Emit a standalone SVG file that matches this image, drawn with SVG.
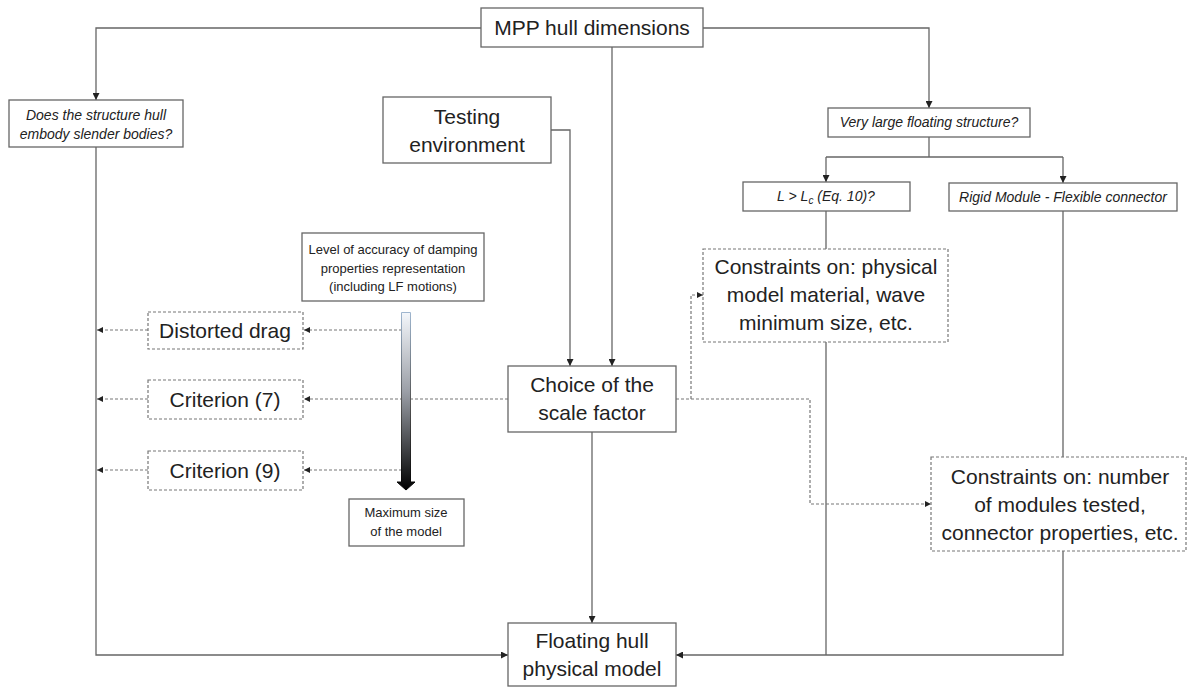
<svg xmlns="http://www.w3.org/2000/svg" width="1188" height="687" viewBox="0 0 1188 687">
  <defs>
    <marker id="arr" viewBox="0 0 10 10" refX="10" refY="5" markerWidth="7" markerHeight="7" markerUnits="userSpaceOnUse" orient="auto">
      <path d="M0,0 L10,5 L0,10 Z" fill="#222"/>
    </marker>
    <marker id="arrs" viewBox="0 0 10 10" refX="10" refY="5" markerWidth="6" markerHeight="6" markerUnits="userSpaceOnUse" orient="auto">
      <path d="M0,0 L10,5 L0,10 Z" fill="#222"/>
    </marker>
    <linearGradient id="fade" x1="0" y1="0" x2="0" y2="1">
      <stop offset="0" stop-color="#f4f7fb"/>
      <stop offset="0.45" stop-color="#9a9ea6"/>
      <stop offset="1" stop-color="#000"/>
    </linearGradient>
    <linearGradient id="fadeEdge" x1="0" y1="0" x2="0" y2="1">
      <stop offset="0" stop-color="#9fb6cf"/>
      <stop offset="0.5" stop-color="#555"/>
      <stop offset="1" stop-color="#000"/>
    </linearGradient>
    <style>
      .box { fill: #fff; stroke: #666; stroke-width: 1.3; }
      .dbox { fill: #fff; stroke: #777; stroke-width: 1.2; stroke-dasharray: 3 2; }
      .t { font-family: "Liberation Sans", Arial, sans-serif; fill: #222; text-anchor: middle; }
      .big { font-size: 21px; }
      .it { font-size: 14px; font-style: italic; }
      .sm { font-size: 13px; }
      .line { fill: none; stroke: #666; stroke-width: 1.3; }
      .dash { fill: none; stroke: #777; stroke-width: 1.2; stroke-dasharray: 3 2; }
    </style>
  </defs>
  <rect width="1188" height="687" fill="#fff"/>

  <g id="connectors">
    <!-- solid flow lines -->
    <path class="line" d="M481,28 H96 V100" marker-end="url(#arr)"/>
    <path class="line" d="M703,28 H929 V108" marker-end="url(#arr)"/>
    <path class="line" d="M612,47 V366" marker-end="url(#arr)"/>
    <path class="line" d="M551,130 H570 V366" marker-end="url(#arr)"/>
    <path class="line" d="M929,137 V157"/>
    <path class="line" d="M826,157 H1063"/>
    <path class="line" d="M826,157 V182" marker-end="url(#arr)"/>
    <path class="line" d="M1063,157 V183" marker-end="url(#arr)"/>
    <path class="line" d="M826,211 V655"/>
    <path class="line" d="M1063,211 V655 H826"/>
    <path class="line" d="M826,655 H676" marker-end="url(#arr)"/>
    <path class="line" d="M96,147 V655 H508" marker-end="url(#arr)"/>
    <path class="line" d="M592,432 V623" marker-end="url(#arr)"/>
    <!-- dashed influence lines -->
    <path class="dash" d="M402,330 H304" marker-end="url(#arrs)"/>
    <path class="dash" d="M148,330 H97" marker-end="url(#arrs)"/>
    <path class="dash" d="M508,399 H304" marker-end="url(#arrs)"/>
    <path class="dash" d="M148,399 H97" marker-end="url(#arrs)"/>
    <path class="dash" d="M402,470 H304" marker-end="url(#arrs)"/>
    <path class="dash" d="M148,470 H97" marker-end="url(#arrs)"/>
    <path class="dash" d="M676,399 H810 V504 H931" marker-end="url(#arrs)"/>
    <path class="dash" d="M691,399 V295 H703" marker-end="url(#arrs)"/>
  </g>

  <g id="mpp-hull-dimensions">
    <rect class="box" x="481" y="8" width="222" height="39"/>
    <text class="t big" x="592" y="35">MPP hull dimensions</text>
  </g>

  <g id="slender-bodies">
    <rect class="box" x="9" y="100" width="174" height="47"/>
    <text class="t it" x="96" y="120">Does the structure hull</text>
    <text class="t it" x="96" y="139">embody slender bodies?</text>
  </g>

  <g id="testing-environment">
    <rect class="box" x="383" y="97" width="168" height="66"/>
    <text class="t big" x="467" y="124">Testing</text>
    <text class="t big" x="467" y="152">environment</text>
  </g>

  <g id="very-large-floating">
    <rect class="box" x="828" y="108" width="202" height="29"/>
    <text class="t it" x="929" y="127">Very large floating structure?</text>
  </g>

  <g id="length-check">
    <rect class="box" x="743" y="182" width="167" height="29"/>
    <text class="t it" x="826" y="201">L &gt; L<tspan font-size="10" dy="3">c</tspan><tspan dy="-3"> (Eq. 10)?</tspan></text>
  </g>

  <g id="rigid-module">
    <rect class="box" x="949" y="183" width="228" height="28"/>
    <text class="t it" x="1063" y="202">Rigid Module - Flexible connector</text>
  </g>

  <g id="damping-accuracy">
    <rect class="box" x="302" y="233" width="182" height="68"/>
    <text class="t sm" x="393" y="254">Level of accuracy of damping</text>
    <text class="t sm" x="393" y="273">properties representation</text>
    <text class="t sm" x="393" y="291">(including LF motions)</text>
  </g>

  <g id="constraints-material">
    <rect class="dbox" x="703" y="249" width="245" height="93"/>
    <text class="t big" x="826" y="274">Constraints on: physical</text>
    <text class="t big" x="826" y="302">model material, wave</text>
    <text class="t big" x="826" y="330">minimum size, etc.</text>
  </g>

  <g id="distorted-drag">
    <rect class="dbox" x="148" y="312" width="155" height="37"/>
    <text class="t big" x="225" y="338">Distorted drag</text>
  </g>

  <g id="criterion-7">
    <rect class="dbox" x="148" y="380" width="155" height="39"/>
    <text class="t big" x="225" y="407">Criterion (7)</text>
  </g>

  <g id="criterion-9">
    <rect class="dbox" x="148" y="451" width="155" height="39"/>
    <text class="t big" x="225" y="478">Criterion (9)</text>
  </g>

  <g id="size-gradient">
    <path d="M401.5,312.5 H410.5 V482 H415 L406,490 L397,482 H401.5 Z" fill="url(#fade)" stroke="url(#fadeEdge)" stroke-width="1"/>
  </g>

  <g id="scale-factor">
    <rect class="box" x="508" y="366" width="168" height="66"/>
    <text class="t big" x="592" y="392">Choice of the</text>
    <text class="t big" x="592" y="420">scale factor</text>
  </g>

  <g id="maximum-size">
    <rect class="box" x="349" y="499" width="115" height="47"/>
    <text class="t sm" x="406" y="517">Maximum size</text>
    <text class="t sm" x="406" y="536">of the model</text>
  </g>

  <g id="constraints-modules">
    <rect class="dbox" x="931" y="457" width="255" height="94"/>
    <text class="t big" x="1060" y="484">Constraints on: number</text>
    <text class="t big" x="1060" y="512">of modules tested,</text>
    <text class="t big" x="1060" y="540">connector properties, etc.</text>
  </g>

  <g id="floating-hull-model">
    <rect class="box" x="508" y="623" width="168" height="63"/>
    <text class="t big" x="592" y="648">Floating hull</text>
    <text class="t big" x="592" y="676">physical model</text>
  </g>
</svg>
